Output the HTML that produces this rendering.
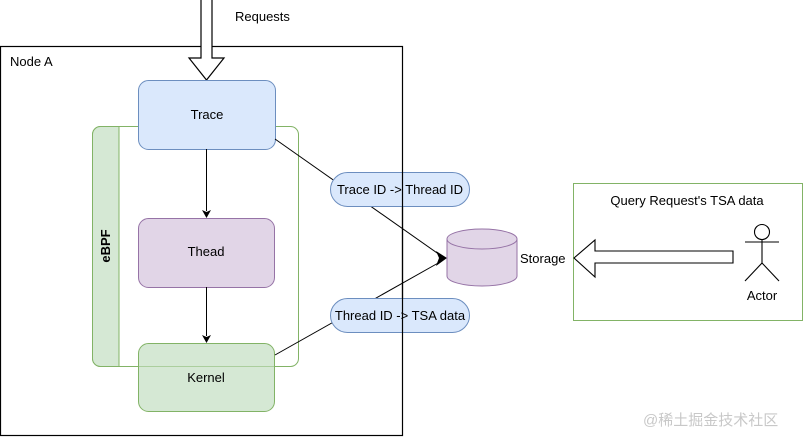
<!DOCTYPE html>
<html><head><meta charset="utf-8"><style>
body{margin:0;background:#fff;}
svg text{font-family:"Liberation Sans","Noto Sans CJK SC",sans-serif;font-size:13px;fill:#000}
</style></head><body>
<svg width="803" height="437" viewBox="0 0 803 437" xmlns="http://www.w3.org/2000/svg">
<rect x="0.5" y="46.5" width="402" height="389" fill="none" stroke="#000" stroke-width="1.2"/>
<text x="10" y="66">Node A</text>
<path d="M201,0 V58 H189 L206.5,80 L224,58 H212 V0" fill="#fff" stroke="#000" stroke-width="1.2"/>
<text x="235" y="21">Requests</text>
<rect x="92.5" y="126.5" width="206" height="240" rx="8" fill="none" stroke="#82b366"/>
<path d="M100.5,126.5 H119 V366.5 H100.5 A8,8 0 0 1 92.5,358.5 V134.5 A8,8 0 0 1 100.5,126.5Z" fill="#d5e8d4" stroke="#82b366"/>
<text x="0" y="0" transform="translate(110,246) rotate(-90)" text-anchor="middle" font-weight="bold">eBPF</text>
<rect x="138.5" y="80.5" width="137" height="69" rx="10" fill="#dae8fc" stroke="#6c8ebf"/>
<text x="207" y="119" text-anchor="middle">Trace</text>
<rect x="138.5" y="218.5" width="136" height="69" rx="10" fill="#e1d5e7" stroke="#9673a6"/>
<text x="206" y="256" text-anchor="middle">Thead</text>
<rect x="138.5" y="343.5" width="136" height="68" rx="10" fill="#d5e8d4" stroke="#82b366"/>
<line x1="138" y1="366.5" x2="274" y2="366.5" stroke="#82b366" stroke-opacity="0.5"/>
<text x="206" y="382" text-anchor="middle">Kernel</text>
<line x1="206.5" y1="149" x2="206.5" y2="211" stroke="#000"/>
<path d="M202,210 L206.5,218 L211,210 L206.5,212Z" fill="#000"/>
<line x1="206.5" y1="287" x2="206.5" y2="336" stroke="#000"/>
<path d="M202,335 L206.5,343 L211,335 L206.5,337Z" fill="#000"/>
<line x1="275" y1="139" x2="440" y2="255" stroke="#000"/>
<line x1="275" y1="355" x2="440" y2="262" stroke="#000"/>
<path d="M436,251 L447,258 L436,266 L439,258Z" fill="#000"/>
<rect x="330.5" y="172.5" width="139" height="34" rx="17" fill="#dae8fc" stroke="#6c8ebf"/>
<text x="400" y="194" text-anchor="middle">Trace ID -&gt; Thread ID</text>
<rect x="330.5" y="298.5" width="139" height="34" rx="17" fill="#dae8fc" stroke="#6c8ebf"/>
<text x="400" y="320" text-anchor="middle">Thread ID -&gt; TSA data</text>
<line x1="402.5" y1="172" x2="402.5" y2="333" stroke="#000" stroke-width="1.2"/>
<path d="M447,239 V276 A35,10 0 0 0 517,276 V239" fill="#e1d5e7" stroke="#9673a6"/>
<ellipse cx="482" cy="239" rx="35" ry="10" fill="#e1d5e7" stroke="#9673a6"/>
<text x="520" y="263">Storage</text>
<rect x="573.5" y="183.5" width="229" height="137" fill="none" stroke="#82b366"/>
<text x="687" y="205" text-anchor="middle">Query Request's TSA data</text>
<path d="M733,251 H595 V240 L574,258 L595,277 V263 H733Z" fill="#fff" stroke="#000" stroke-width="1.1"/>
<g stroke="#000" fill="none" stroke-width="1.1">
<circle cx="762" cy="232" r="7.5"/>
<line x1="762" y1="239.5" x2="762" y2="263"/>
<line x1="745" y1="242" x2="779" y2="242"/>
<line x1="762" y1="263" x2="745" y2="281"/>
<line x1="762" y1="263" x2="779" y2="281"/>
</g>
<text x="762" y="300" text-anchor="middle">Actor</text>
<text x="643" y="425" style="fill:#c8c8c8;font-size:15px">@稀土掘金技术社区</text>
</svg>
</body></html>
